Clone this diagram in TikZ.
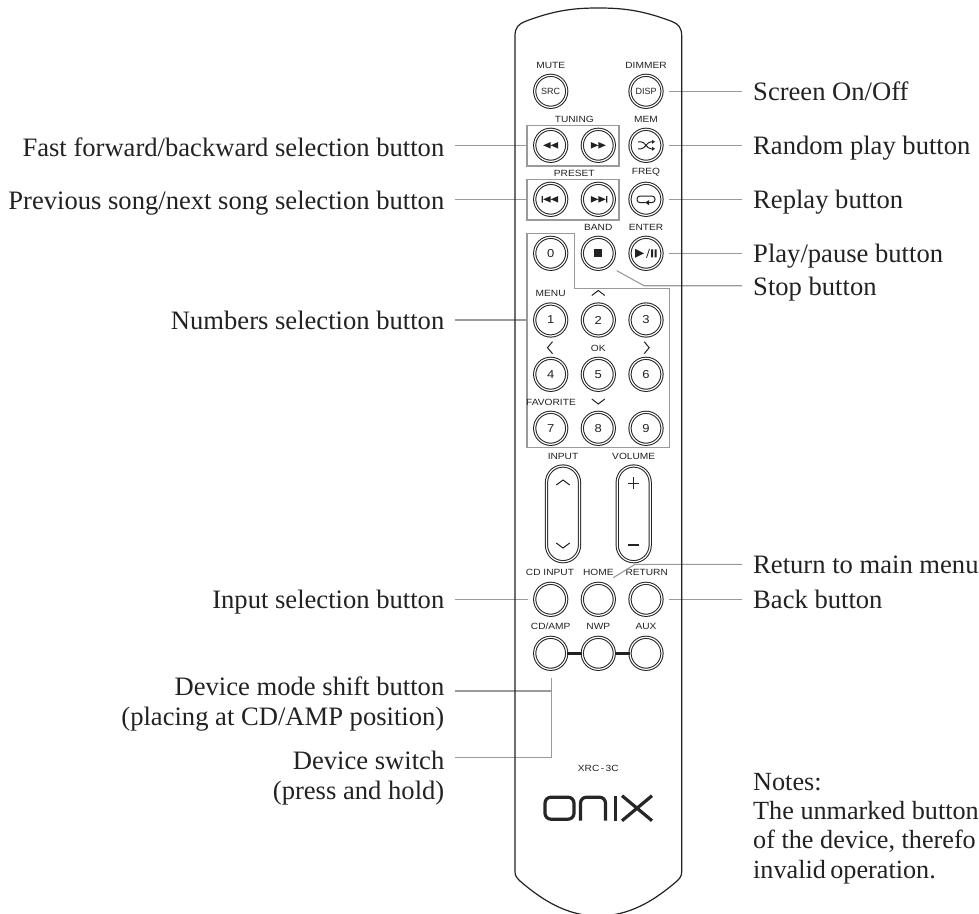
\documentclass[tikz,border=0pt]{standalone}
\usepackage{fontspec}
\setmainfont{Liberation Serif}
\newfontfamily\keyfont[FakeStretch=1.13]{Liberation Sans}
\newfontfamily\btnfont{Liberation Sans}
\newcommand\keydigit[1]{{\keyfont\fontsize{11.5}{12}\selectfont #1}}
\definecolor{leadgray}{HTML}{9A9A9A}
\definecolor{inkdark}{HTML}{222222}
\tikzset{
  keybtn/.style={circle,draw=inkdark,double=white,double distance=1.2pt,line width=1pt,
    minimum size=32pt,inner sep=0pt,font=\btnfont\fontsize{9}{9}\selectfont,text=inkdark},
  keytag/.style={inner sep=0pt,font=\keyfont\fontsize{9}{9}\selectfont,text=inkdark},
  keyframe/.style={draw=leadgray,line width=1.2pt,inner sep=0pt},
  leader/.style={draw=leadgray,line width=1.1pt},
  rightlabel/.style={anchor=west,inner ysep=0pt,inner xsep=11pt,text height=25pt,text depth=6pt,
    font=\fontsize{26.6}{28}\selectfont,text=inkdark},
  leftlabel/.style={rightlabel,anchor=east,inner xsep=10.5pt},
  notelabel/.style={rightlabel,font=\fontsize{26.2}{28}\selectfont},
  glyph/.style={draw=inkdark,line width=1pt},
  rocker/.style={rounded corners=16.5pt,draw=inkdark,double=white,double distance=1.2pt,line width=1pt},
  logostroke/.style={draw=black!85,line width=3.2pt},
  twotri/.pic={\fill[inkdark] (-7.5,0) -- (0,-3.3) -- (0,3.3) -- cycle (0,0) -- (7.5,-3.3) -- (7.5,3.3) -- cycle;},
  skiptri/.pic={\fill[inkdark] (-9,-3.3) rectangle (-7.8,3.3) (-7.5,0) -- (0,-3.3) -- (0,3.3) -- cycle (0,0) -- (7.5,-3.3) -- (7.5,3.3) -- cycle;},
}
\begin{document}
\begin{tikzpicture}[x=1pt,y=-1pt]
\clip (0,0) rectangle (979,913);
% frames round the button groups
\node[keyframe,minimum width=92pt,minimum height=40.7pt] (tuningFrame) at (573,145.6) {};
\node[keyframe,minimum width=92pt,minimum height=40.7pt] (presetFrame) at (573,199.6) {};
\draw[keyframe] (527,233.3) -- (574.3,233.3) -- (574.3,288.7) -- (669.3,288.7) -- (669.3,447.3) -- (527,447.3) -- cycle;
\coordinate (numbersEdge) at (527,320);
% buttons
\foreach \name/\x/\y/\txt in {
  srcBtn/550.7/91.3/SRC, dispBtn/646/91.3/DISP,
  rewBtn/550.7/145.3/, ffBtn/598.3/145.3/, memBtn/646/145.3/,
  prevBtn/550.7/199.3/, nextBtn/598.3/199.3/, freqBtn/646/199.3/,
  zeroBtn/550.7/253.3/\keydigit{0}, stopBtn/598.3/253.3/, playBtn/646/253.3/,
  oneBtn/550.7/320/\keydigit{1}, twoBtn/598.3/320/\keydigit{2}, threeBtn/646/320/\keydigit{3},
  fourBtn/550.7/374.3/\keydigit{4}, fiveBtn/598.3/374.3/\keydigit{5}, sixBtn/646/374.3/\keydigit{6},
  sevenBtn/550.7/428.3/\keydigit{7}, eightBtn/598.3/428.3/\keydigit{8}, nineBtn/646/428.3/\keydigit{9},
  cdinputBtn/550.7/599.3/, homeBtn/598.3/599.3/, returnBtn/646/599.3/,
  cdampBtn/550.7/653.3/, nwpBtn/598.3/653.3/, auxBtn/646/653.3/}
  \node[keybtn] (\name) at (\x,\y) {\txt};
% tags above the buttons
\foreach \name/\x/\y/\txt in {
  muteTag/550.7/65/MUTE, dimmerTag/646/65/DIMMER, tuningTag/574.3/119/TUNING, memTag/646/119/MEM,
  presetTag/574.3/173/PRESET, freqTag/646/172.5/FREQ, bandTag/598.3/227/BAND, enterTag/646/227/ENTER,
  menuTag/550.7/293.3/MENU, okTag/598.3/348/OK, favoriteTag/551/402/FAVORITE,
  inputTag/563/456/INPUT, volumeTag/633.7/456/VOLUME,
  cdinputTag/550/572/CD INPUT, homeTag/598.3/572/HOME, returnTag/646.7/572/RETURN,
  cdampTag/550.7/626/{CD/AMP}, nwpTag/598.3/626/NWP, auxTag/646/626/AUX, modelTag/598.3/768.7/XRC\,-\,3C}
  \node[keytag] (\name) at (\x,\y) {\txt};
% glyphs on the buttons
\pic[xscale=1] at (rewBtn) {twotri};
\pic[xscale=-1] at (ffBtn) {twotri};
\pic at (prevBtn) {skiptri};
\pic[xscale=-1] at (nextBtn) {skiptri};
\fill[inkdark] ([shift={(-4,-4)}]stopBtn.center) rectangle ([shift={(4,4)}]stopBtn.center);
\begin{scope}[shift={(memBtn.center)}]
  \draw[glyph] (-8,-3.5) -- (-5,-3.5) .. controls (-1,-3.5) and (1,3.5) .. (5,3.5) -- (7,3.5);
  \draw[glyph] (-8,3.5) -- (-5,3.5) .. controls (-1,3.5) and (1,-3.5) .. (5,-3.5) -- (7,-3.5);
  \fill[inkdark] (9,-3.5) -- (6,-5.5) -- (6,-1.5) -- cycle (9,3.5) -- (6,1.5) -- (6,5.5) -- cycle;
\end{scope}
\begin{scope}[shift={(freqBtn.center)}]
  \draw[glyph,rounded corners=3pt] (-1,3.3) -- (-9,3.3) -- (-9,-3.3) -- (9,-3.3) -- (9,3.3) -- (3,3.3);
  \fill[inkdark] (-1,3.3) -- (3,.8) -- (3,5.8) -- cycle;
\end{scope}
\begin{scope}[shift={(playBtn.center)}]
  \fill[inkdark] (-11,-4.5) -- (-2,0) -- (-11,4.5) -- cycle (5,-4) rectangle (7,4) (8.5,-4) rectangle (10.5,4);
  \draw[inkdark,line width=.8pt] (.5,4.5) -- (3.5,-4.5);
\end{scope}
% arrows printed beside the number keys
\node[inner sep=0pt] (upMark) at (598.3,293) {};
\node[inner sep=0pt] (leftMark) at (550,347.7) {};
\node[inner sep=0pt] (rightMark) at (646.7,347.7) {};
\node[inner sep=0pt] (downMark) at (598.3,401.5) {};
\draw[glyph] ([shift={(-6.5,2.5)}]upMark.center) -- ([shift={(0,-2.5)}]upMark.center) -- ([shift={(6.5,2.5)}]upMark.center);
\draw[glyph] ([shift={(-6.5,-2.5)}]downMark.center) -- ([shift={(0,2.5)}]downMark.center) -- ([shift={(6.5,-2.5)}]downMark.center);
\draw[glyph] ([shift={(2.5,-6)}]leftMark.center) -- ([shift={(-2.5,0)}]leftMark.center) -- ([shift={(2.5,6)}]leftMark.center);
\draw[glyph] ([shift={(-2.5,-6)}]rightMark.center) -- ([shift={(2.5,0)}]rightMark.center) -- ([shift={(-2.5,6)}]rightMark.center);
% rockers
\draw[rocker] (546.5,466) rectangle (579.5,561.7);
\draw[rocker] (617.2,466) rectangle (650.2,561.7);
\draw[glyph] (556.3,485) -- (563,480) -- (569.7,485);
\draw[glyph] (556.3,543) -- (563,548) -- (569.7,543);
\draw[glyph] (628,483) -- (639.4,483) (633.7,477.3) -- (633.7,488.7);
\draw[inkdark,line width=1.6pt] (628,545) -- (639.4,545);
% thick bars of the device switch
\draw[inkdark,line width=3.4pt] (cdampBtn) -- (nwpBtn);
\draw[inkdark,line width=3.4pt] (nwpBtn) -- (auxBtn);
% labels on the right
\foreach \name/\y/\txt in {
  screenLabel/91.3/{Screen On/Off}, randomLabel/145.3/Random play button, replayLabel/199.3/Replay button,
  playLabel/253.3/{Play/pause button}, stopLabel/285.7/Stop button,
  menuLabel/564.3/Return to main menu, backLabel/599.3/Back button}
  \node[rightlabel] (\name) at (742,\y) {\txt};
% labels on the left
\foreach \name/\y/\txt in {
  ffLabel/147/{Fast forward/backward selection button}, prevLabel/199.6/{Previous song/next song selection button},
  numbersLabel/320/Numbers selection button, inputLabel/599.3/Input selection button,
  modeLabel/685.5/Device mode shift button, modeLabelb/715.5/{(placing at CD/AMP position)},
  switchLabel/759.5/Device switch, switchLabelb/789.5/(press and hold)}
  \node[leftlabel] (\name) at (455,\y) {\txt};
% notes
\foreach \name/\y/\txt in {
  notesHead/781.2/Notes:, notesOne/810.2/The unmarked button, notesTwo/839.2/{of the device, therefo}, notesThree/869.2/invalid\,operation.}
  \node[notelabel] (\name) at (742,\y) {\txt};
% leaders
\coordinate (ffEdge) at (527,145.6);
\coordinate (stopTip) at (616.7,270.7);
\coordinate (homeTip) at (613.3,577.7);
\coordinate (modeTip) at (551.7,691);
\coordinate (switchTip) at (551.7,678);
\coordinate (switchBend) at (551.7,757.7);
\draw[leader,shorten <=6pt] (dispBtn.east) -- (screenLabel.west);
\draw[leader,shorten <=6pt] (memBtn.east) -- (randomLabel.west);
\draw[leader,shorten <=6pt] (freqBtn.east) -- (replayLabel.west);
\draw[leader,shorten <=6pt] (playBtn.east) -- (playLabel.west);
\draw[leader] (stopTip) -- (644,285.7) -- (stopLabel.west);
\draw[leader] (homeTip) -- (635,564.3) -- (menuLabel.west);
\draw[leader,shorten <=6pt] (returnBtn.east) -- (backLabel.west);
\draw[leader] (ffLabel.east |- ffEdge) -- (tuningFrame.west);
\draw[leader] (prevLabel.east) -- (presetFrame.west);
\draw[leader] (numbersLabel.east) -- (numbersEdge);
\draw[leader,shorten >=6pt] (inputLabel.east) -- (cdinputBtn.west);
\draw[leader] (modeLabel.east |- modeTip) -- (modeTip);
\draw[leader] (switchLabel.east |- switchBend) -- (switchBend) -- (switchTip);
% body of the remote
\draw[inkdark,line width=1.2pt] (515,871.7) -- (515,36) .. controls (515,27) and (519,24) .. (525,21.5)
  .. controls (555,10) and (575,8) .. (598.3,8) .. controls (622,8) and (642,10) .. (672,21.5)
  .. controls (678,24) and (681.7,27) .. (681.7,36) -- (681.7,871.7) .. controls (681.7,876) and (680,878) .. (677,881)
  .. controls (655,900) and (630,916) .. (598.3,916) .. controls (567,916) and (542,900) .. (520,881)
  .. controls (517,878) and (515,876) .. (515,871.7) -- cycle;
% logo
\draw[logostroke,rounded corners=6pt] (545,797.2) rectangle (574,819.2);
\draw[logostroke,rounded corners=6pt] (580.5,820.7) -- (580.5,797.2) -- (605.5,797.2) -- (605.5,820.7);
\draw[logostroke] (615.5,795.7) -- (615.5,820.7);
\draw[logostroke] (622,795.7) -- (652,820.7) (652,795.7) -- (622,820.7);
\end{tikzpicture}
\end{document}
